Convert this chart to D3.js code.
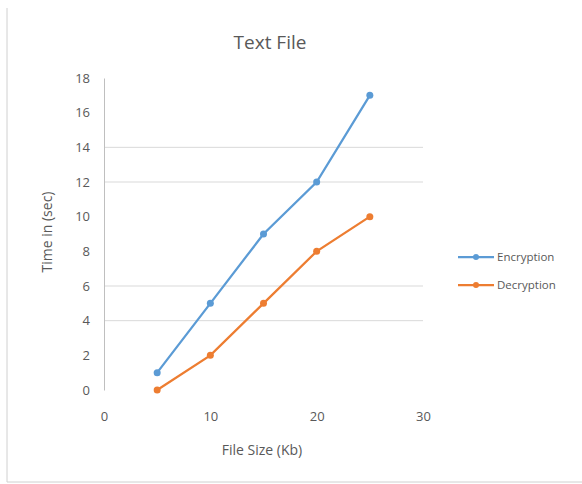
<!DOCTYPE html>
<html><head><meta charset="utf-8">
<script src="https://cdn.jsdelivr.net/npm/d3@7"></script>
<style>body{margin:0;background:#fff;}svg{display:block;}text{font-family:"Open Sans","Liberation Sans",sans-serif;}</style>
</head><body>
<script>
const fileSizes = [5, 10, 15, 20, 25];
const encryption = [1, 5, 9, 12, 17];
const decryption = [0, 2, 5, 8, 10];
const seriesNames = ["Encryption", "Decryption"];
const xTicks = [0, 10, 20, 30];
const yTicks = [0, 2, 4, 6, 8, 10, 12, 14, 16, 18];
const gridTicks = [4, 6, 12, 14];

const W = 582, H = 484;
const svg = d3.select("body").append("svg").attr("width", W).attr("height", H);
svg.append("rect").attr("width", W).attr("height", H).attr("fill", "#fff");
// frame
svg.append("line").attr("x1", 7).attr("x2", 7).attr("y1", 8).attr("y2", 482).attr("stroke", "#d0d0d0");
svg.append("line").attr("x1", 7).attr("x2", 582).attr("y1", 482).attr("y2", 482).attr("stroke", "#d0d0d0");

const x = d3.scaleLinear().domain([0, 30]).range([104, 423]);
const y = d3.scaleLinear().domain([0, 18]).range([390, 78]);
const colors = ["#5b9bd5", "#ed7d31"];
const textCol = "#595959";

// gridlines
svg.append("g").selectAll("line").data(gridTicks).join("line")
  .attr("x1", x(0)).attr("x2", x(30))
  .attr("y1", d => y(d)).attr("y2", d => y(d))
  .attr("stroke", "#d9d9d9").attr("stroke-width", 1);

// y axis
const yAxis = d3.axisLeft(y).tickValues(yTicks).tickSize(0).tickPadding(14);
const gy = svg.append("g").attr("transform", `translate(${x(0)},0)`).call(yAxis);
gy.select(".domain").attr("stroke", "#bfbfbf");
gy.selectAll("text").attr("fill", textCol).attr("font-size", 13);

// x axis
const xAxis = d3.axisBottom(x).tickValues(xTicks).tickSize(0).tickPadding(22);
const gx = svg.append("g").attr("transform", `translate(0,${y(0)})`).call(xAxis);
gx.select(".domain").remove();
gx.selectAll("text").attr("fill", textCol).attr("font-size", 13);

// title & labels
svg.append("text").attr("x", 270).attr("y", 49).attr("text-anchor", "middle")
  .attr("font-size", 19).attr("fill", textCol).text("Text File");
svg.append("text").attr("x", 262).attr("y", 455).attr("text-anchor", "middle")
  .attr("font-size", 14).attr("fill", textCol).text("File Size (Kb)");
svg.append("text").attr("transform", "translate(52,232) rotate(-90)").attr("text-anchor", "middle")
  .attr("font-size", 14).attr("fill", textCol).text("Time in (sec)");

// series
const series = [encryption, decryption];
const line = d3.line().x((d, i) => x(fileSizes[i])).y(d => y(d));
series.forEach((vals, s) => {
  svg.append("path").datum(vals).attr("d", line).attr("fill", "none")
    .attr("stroke", colors[s]).attr("stroke-width", 2.25);
  svg.append("g").selectAll("circle").data(vals).join("circle")
    .attr("cx", (d, i) => x(fileSizes[i])).attr("cy", d => y(d)).attr("r", 3.5)
    .attr("fill", colors[s]);
});

// legend
seriesNames.forEach((n, s) => {
  const ly = 257 + s * 28;
  svg.append("line").attr("x1", 458).attr("x2", 494).attr("y1", ly).attr("y2", ly)
    .attr("stroke", colors[s]).attr("stroke-width", 2.25);
  svg.append("circle").attr("cx", 476).attr("cy", ly).attr("r", 3).attr("fill", colors[s]);
  svg.append("text").attr("x", 497).attr("y", ly + 4).attr("font-size", 11.5)
    .attr("fill", textCol).text(n);
});
</script>
</body></html>
